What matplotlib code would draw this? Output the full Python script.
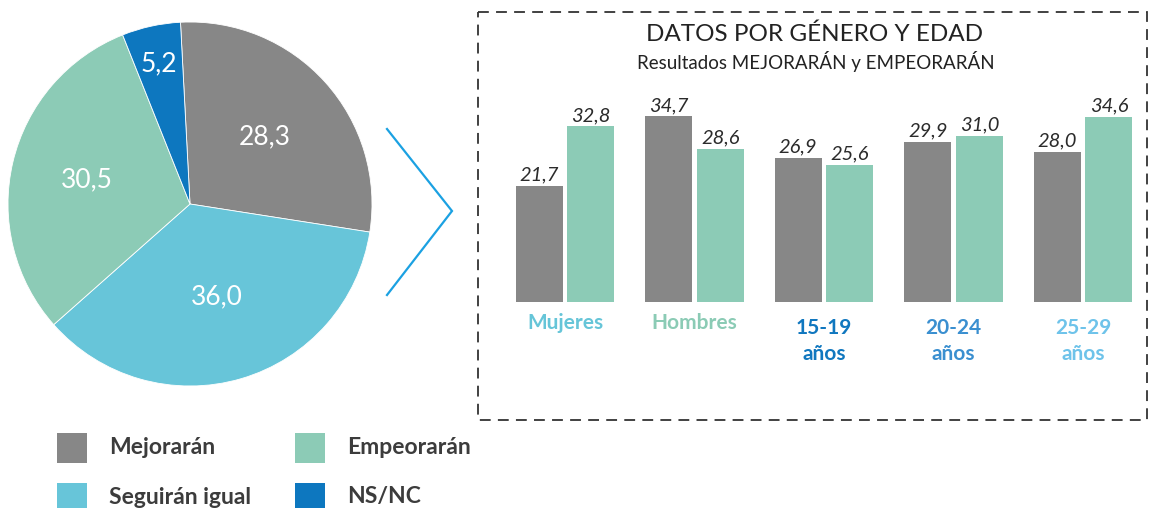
import numpy as np
import matplotlib
matplotlib.use("Agg")
import matplotlib.pyplot as plt
from matplotlib.patches import Rectangle

plt.rcParams['font.family'] = ['Lato', 'DejaVu Sans']

# pie data
pie_labels = ["Mejorarán", "Seguirán igual", "Empeorarán", "NS/NC"]
pie_values = [28.3, 36.0, 30.5, 5.2]
pie_colors = ["#878787", "#67c5d9", "#8ccbb6", "#0d77bf"]
pie_text_dist = [0.55, 0.53, 0.58, 0.79]

# bar data
groups = ["Mujeres", "Hombres", "15-19\naños", "20-24\naños", "25-29\naños"]
group_colors = ["#66c5d8", "#8bcbb5", "#1077bf", "#3a8fd0", "#6ec3ea"]
mejoraran = [21.7, 34.7, 26.9, 29.9, 28.0]
empeoraran = [32.8, 28.6, 25.6, 31.0, 34.6]

W, H = 1150, 508
fig = plt.figure(figsize=(W / 100, H / 100), dpi=100)

def px_axes(x0, y0, x1, y1):
    # pixel box (top-left origin) -> figure axes
    return fig.add_axes([x0 / W, (H - y1) / H, (x1 - x0) / W, (y1 - y0) / H])

# overlay for decorations, in pixel coords
ov = fig.add_axes([0, 0, 1, 1])
ov.set_xlim(0, W)
ov.set_ylim(H, 0)
ov.axis('off')

# --- pie ---
axp = px_axes(8, 22, 372, 386)
wedges, _ = axp.pie(pie_values, colors=pie_colors, startangle=93, counterclock=False,
                    wedgeprops=dict(linewidth=0.6, edgecolor='white'))
for w, v, d in zip(wedges, pie_values, pie_text_dist):
    ang = np.deg2rad((w.theta1 + w.theta2) / 2)
    axp.text(d * np.cos(ang), d * np.sin(ang), f"{v:.1f}".replace('.', ','),
             color='white', fontsize=19, ha='center', va='center')
axp.set_xlim(-1, 1)
axp.set_ylim(-1, 1)
axp.set_aspect('equal')

# arrow
ov.plot([387, 452, 387], [129, 211, 295], color='#1ba1e2', lw=1.6,
        solid_joinstyle='miter')

# dashed box
ov.add_patch(Rectangle((478, 12), 669, 408, fill=False, edgecolor='#333333',
                       lw=1.3, linestyle=(0, (6, 4))))

# titles
ov.text(815, 34, "DATOS POR GÉNERO Y EDAD", fontsize=17.5, color='#222222',
        ha='center', va='center')
ov.text(816, 62, "Resultados MEJORARÁN y EMPEORARÁN", fontsize=13.5, color='#222222',
        ha='center', va='center')

# --- bars ---
axb = px_axes(478, 102, 1147, 302)
x = np.arange(len(groups))
bw = 0.363
off = 0.2
b1 = axb.bar(x - off, mejoraran, bw, color="#878787")
b2 = axb.bar(x + off, empeoraran, bw, color="#8ccbb6")
for bars, vals in ((b1, mejoraran), (b2, empeoraran)):
    for rect, v in zip(bars, vals):
        axb.annotate(f"{v:.1f}".replace('.', ','),
                     (rect.get_x() + rect.get_width() / 2, rect.get_height()),
                     xytext=(0, 1.5), textcoords='offset points', ha='center', va='bottom',
                     fontsize=14.5, style='italic', color='#2b2b2b')
axb.set_xlim(-0.672, 4.494)
axb.set_ylim(0, 200 / 5.36)
axb.axis('off')

for i, (g, c) in enumerate(zip(groups, group_colors)):
    y = 313 if '\n' not in g else 318
    ov.text(478 + (i + 0.672) * 129.5, y, g, color=c, fontsize=15, fontweight='bold',
            ha='center', va='top', linespacing=1.4)

# legend, 2 columns x 2 rows (filled column-wise)
for k, (lab, c) in enumerate(zip(pie_labels, pie_colors)):
    col, row = k // 2, k % 2
    sx = 57 + col * 238
    sy = 433 + row * 50
    ov.add_patch(Rectangle((sx, sy), 30, 30, facecolor=c, edgecolor='none', clip_on=False))
    ov.text(sx + 52, sy + 14, lab, fontsize=16.5, fontweight='bold', color='#3c3c3c',
            ha='left', va='center')

fig.savefig("out.png", dpi=100)
